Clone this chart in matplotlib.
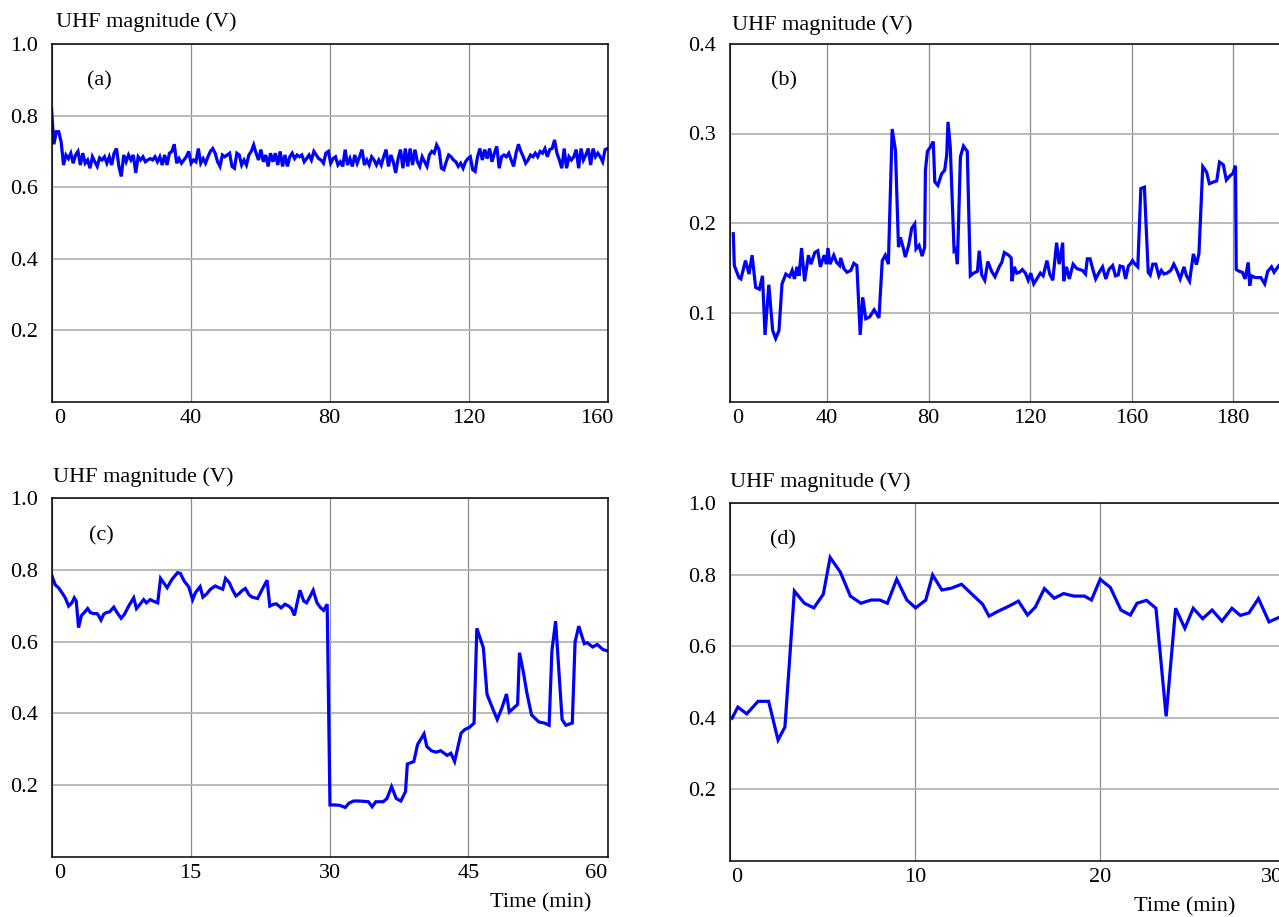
import numpy as np
import matplotlib.pyplot as plt
from matplotlib.transforms import ScaledTranslation

plt.rcParams['font.family'] = ['Liberation Serif', 'DejaVu Serif']
plt.rcParams['font.size'] = 16

# (a) evenly sampled record, 0-160 min
uhf_a = [0.82, 0.72, 0.755, 0.755, 0.727, 0.662, 0.69, 0.68, 0.695, 0.667, 0.69, 0.70, 0.662, 0.695, 0.667,
         0.676, 0.653, 0.685, 0.671, 0.658, 0.682, 0.676, 0.685, 0.667, 0.685, 0.662, 0.695, 0.708, 0.658, 0.630,
         0.69, 0.671, 0.69, 0.676, 0.69, 0.64, 0.685, 0.676, 0.685, 0.671, 0.676, 0.68, 0.676, 0.685, 0.671,
         0.685, 0.662, 0.69, 0.662, 0.695, 0.70, 0.72, 0.667, 0.68, 0.667, 0.676,
         0.685, 0.70, 0.667, 0.676, 0.671, 0.708, 0.667, 0.68, 0.667, 0.685, 0.70, 0.708, 0.695, 0.671, 0.658,
         0.69, 0.685, 0.69, 0.695, 0.658, 0.653, 0.695, 0.69, 0.662, 0.676, 0.662, 0.69, 0.70, 0.718, 0.695,
         0.676, 0.705, 0.671, 0.69, 0.658, 0.695, 0.671, 0.695, 0.662, 0.70, 0.658, 0.69, 0.658, 0.685, 0.695,
         0.68, 0.69, 0.685, 0.69, 0.671, 0.68, 0.69, 0.676, 0.70, 0.69, 0.68, 0.676, 0.667,
         0.695, 0.70, 0.667, 0.68, 0.685, 0.662, 0.671, 0.658, 0.705, 0.662, 0.68, 0.658, 0.69, 0.667, 0.685,
         0.705, 0.662, 0.676, 0.662, 0.685, 0.676, 0.662, 0.676, 0.662, 0.685, 0.705, 0.658, 0.69, 0.671, 0.64,
         0.68, 0.705, 0.653, 0.708, 0.658, 0.708, 0.662, 0.705, 0.671, 0.658, 0.685, 0.671, 0.658, 0.69, 0.70,
         0.695, 0.718, 0.705, 0.653, 0.649, 0.671, 0.69, 0.685, 0.676, 0.671, 0.658, 0.667, 0.653,
         0.671, 0.68, 0.685, 0.649, 0.644, 0.685, 0.708, 0.676, 0.705, 0.68, 0.708, 0.671, 0.695, 0.714, 0.653,
         0.685, 0.69, 0.685, 0.695, 0.676, 0.658, 0.695, 0.72, 0.70, 0.685, 0.667, 0.676, 0.69, 0.685, 0.695,
         0.685, 0.70, 0.695, 0.708, 0.685, 0.705, 0.708, 0.732, 0.695, 0.676, 0.653, 0.708, 0.653, 0.685, 0.676,
         0.685, 0.705, 0.653, 0.708, 0.676, 0.69, 0.708, 0.662, 0.708, 0.685, 0.695, 0.685, 0.671, 0.705, 0.708]
t_a = np.linspace(0, 160, len(uhf_a))

# (b)
t_b = [3.0, 3.4, 5.2, 6.0, 7.8, 9.2, 10.4, 11.8, 13.3, 14.5,
       15.5, 17.0, 18.5, 19.7, 21.0, 22.2, 23.7, 25.2, 26.2, 27.1,
       28.1, 28.9, 29.9, 31.1, 32.6, 33.6, 35.1, 36.3, 37.3, 38.8,
       39.7, 40.3, 41.1, 42.6, 43.7, 44.9, 45.3, 46.6, 47.8, 49.3,
       50.5, 51.7, 53.0, 54.0, 55.2, 56.7, 58.5, 60.4, 61.7, 62.9,
       64.1, 65.6, 66.9, 68.1, 68.8, 69.9, 70.8, 72.1, 73.3, 74.5,
       75.0, 76.2, 77.4, 78.4, 78.7, 79.5, 80.7, 81.8, 82.4, 83.6,
       85.1, 86.3, 87.1, 87.6, 88.5, 90.0, 90.7, 91.3, 92.5, 93.7,
       95.2, 96.4, 97.7, 99.2, 99.9, 100.9, 102.1, 103.3, 104.8, 106.1,
       107.8, 108.8, 109.8, 111.5, 112.5, 112.8, 113.7, 114.7, 115.8, 116.9,
       118.1, 119.2, 120.2, 121.4, 122.9, 124.0, 125.1, 126.6, 127.7, 128.9,
       130.4, 131.4, 132.8, 133.2, 134.3, 135.4, 136.9, 138.4, 140.6, 141.8,
       142.5, 143.6, 144.6, 145.8, 147.0, 148.5, 149.8, 151.0, 152.5, 153.6,
       154.7, 155.4, 156.6, 157.6, 158.7, 159.4, 160.3, 161.3, 162.4, 163.6,
       165.0, 166.5, 167.3, 168.3, 169.5, 170.7, 171.7, 172.7, 173.9, 175.4,
       176.6, 177.8, 179.1, 180.6, 181.6, 182.8, 184.3, 185.5, 186.5, 188.0,
       189.5, 190.6, 192.4, 193.5, 194.6, 196.1, 197.3, 198.8, 199.8, 200.9,
       201.2, 202.4, 203.6, 204.7, 205.9, 206.5, 207.2, 208.7, 210.9, 212.4,
       213.6, 215.1, 216.1, 218.0, 220.0]
uhf_b = [0.188, 0.1525, 0.139, 0.1375, 0.158, 0.143, 0.164, 0.128, 0.126, 0.141,
         0.075, 0.131, 0.080, 0.071, 0.080, 0.132, 0.143, 0.140, 0.147, 0.1375,
         0.151, 0.141, 0.172, 0.135, 0.164, 0.154, 0.167, 0.169, 0.151, 0.164,
         0.154, 0.172, 0.154, 0.164, 0.156, 0.1525, 0.161, 0.149, 0.145, 0.147,
         0.155, 0.1525, 0.075, 0.117, 0.093, 0.095, 0.103, 0.094, 0.158, 0.164,
         0.154, 0.305, 0.281, 0.173, 0.184, 0.173, 0.162, 0.175, 0.194, 0.199,
         0.171, 0.175, 0.163, 0.173, 0.259, 0.280, 0.285, 0.291, 0.246, 0.242,
         0.255, 0.259, 0.276, 0.313, 0.285, 0.169, 0.171, 0.154, 0.274, 0.286,
         0.280, 0.141, 0.144, 0.146, 0.169, 0.142, 0.136, 0.157, 0.146, 0.140,
         0.151, 0.156, 0.167, 0.164, 0.161, 0.135, 0.151, 0.144, 0.145, 0.148,
         0.144, 0.136, 0.144, 0.132, 0.139, 0.144, 0.141, 0.158, 0.143, 0.136,
         0.178, 0.154, 0.178, 0.135, 0.151, 0.1375, 0.154, 0.149, 0.147, 0.143,
         0.160, 0.160, 0.149, 0.1375, 0.144, 0.151, 0.1375, 0.148, 0.1525, 0.141,
         0.142, 0.152, 0.151, 0.1375, 0.152, 0.154, 0.158, 0.154, 0.151, 0.2385,
         0.240, 0.145, 0.142, 0.154, 0.154, 0.141, 0.147, 0.143, 0.144, 0.147,
         0.154, 0.147, 0.1375, 0.151, 0.141, 0.135, 0.1655, 0.1535, 0.166, 0.263,
         0.257, 0.244, 0.246, 0.247, 0.268, 0.265, 0.248, 0.253, 0.255, 0.264,
         0.148, 0.146, 0.145, 0.1375, 0.156, 0.130, 0.141, 0.139, 0.139, 0.132,
         0.146, 0.151, 0.145, 0.1525, 0.150]

# (c)
t_c = [0.05, 0.40, 0.76, 1.24, 1.48, 1.85, 2.20, 2.46, 2.67, 2.92,
       3.22, 3.54, 3.90, 4.19, 4.55, 4.91, 5.09, 5.34, 5.63, 5.92,
       6.28, 6.72, 7.07, 7.51, 7.87, 8.33, 8.87, 9.17, 9.59, 9.94,
       10.24, 10.65, 10.96, 11.46, 11.77, 12.18, 12.48, 12.99, 13.60, 13.90,
       14.31, 14.82, 15.23, 15.53, 16.04, 16.34, 16.75, 17.16, 17.67, 18.07,
       18.48, 18.78, 19.19, 19.50, 19.90, 20.21, 20.61, 20.92, 21.33, 21.63,
       22.24, 22.75, 23.26, 23.56, 23.97, 24.27, 24.78, 25.19, 25.59, 25.90,
       26.21, 26.51, 26.81, 27.22, 27.53, 27.93, 28.24, 28.65, 29.05, 29.36,
       29.75, 30.05, 30.5, 31.1, 31.7, 32.1, 32.6, 33.2, 34.2, 34.6,
       35.0, 35.8, 36.2, 36.7, 37.2, 37.7, 38.2, 38.4, 39.1, 39.5,
       40.2, 40.5, 41.0, 41.5, 42.0, 42.7, 43.1, 43.5, 44.2, 44.6,
       45.1, 45.6, 45.9, 46.3, 46.6, 47.0, 47.6, 48.1, 48.6, 49.1,
       49.4, 50.3, 50.5, 50.9, 51.3, 51.8, 52.6, 53.2, 53.7, 54.0,
       54.4, 55.1, 55.5, 56.2, 56.5, 56.9, 57.5, 57.8, 58.4, 58.9,
       59.5, 60.0]
uhf_c = [0.783, 0.758, 0.750, 0.732, 0.722, 0.699, 0.708, 0.722, 0.713, 0.639,
         0.672, 0.681, 0.692, 0.681, 0.678, 0.678, 0.672, 0.660, 0.676, 0.681,
         0.683, 0.696, 0.681, 0.665, 0.676, 0.699, 0.722, 0.692, 0.705, 0.717,
         0.708, 0.717, 0.713, 0.708, 0.776, 0.761, 0.750, 0.773, 0.792, 0.790,
         0.769, 0.752, 0.717, 0.736, 0.753, 0.724, 0.733, 0.746, 0.755, 0.750,
         0.746, 0.776, 0.764, 0.746, 0.727, 0.733, 0.743, 0.748, 0.730, 0.724,
         0.720, 0.746, 0.771, 0.699, 0.704, 0.705, 0.694, 0.704, 0.699, 0.692,
         0.673, 0.708, 0.743, 0.713, 0.708, 0.727, 0.743, 0.708, 0.694, 0.687,
         0.704, 0.145, 0.145, 0.144, 0.138, 0.150, 0.156, 0.156, 0.154, 0.140,
         0.154, 0.154, 0.163, 0.196, 0.163, 0.156, 0.182, 0.259, 0.266, 0.313,
         0.343, 0.308, 0.296, 0.292, 0.296, 0.283, 0.289, 0.266, 0.345, 0.355,
         0.361, 0.373, 0.637, 0.606, 0.583, 0.453, 0.414, 0.383, 0.415, 0.454,
         0.404, 0.425, 0.569, 0.518, 0.457, 0.396, 0.376, 0.373, 0.367, 0.574,
         0.657, 0.383, 0.367, 0.373, 0.599, 0.643, 0.594, 0.597, 0.585, 0.592,
         0.578, 0.574]

# (d)
t_d = [0.14, 0.45, 0.93, 1.54, 2.11, 2.62, 2.99, 3.50, 4.04, 4.55,
       5.06, 5.43, 5.98, 6.52, 7.09, 7.64, 8.11, 8.52, 9.02, 9.57,
       10.04, 10.59, 10.96, 11.46, 11.97, 12.52, 13.09, 13.66, 14.00, 14.51,
       15.08, 15.59, 16.08, 16.50, 16.99, 17.52, 18.03, 18.58, 19.15, 19.53,
       20.00, 20.55, 21.12, 21.63, 21.99, 22.50, 23.01, 23.56, 24.07, 24.57,
       25.02, 25.53, 26.04, 26.57, 27.11, 27.56, 28.03, 28.54, 29.11, 29.72,
       30.1]
uhf_d = [0.399, 0.430, 0.411, 0.446, 0.446, 0.338, 0.374, 0.754, 0.720, 0.707,
         0.745, 0.848, 0.807, 0.740, 0.720, 0.729, 0.729, 0.720, 0.787, 0.729,
         0.707, 0.729, 0.799, 0.757, 0.762, 0.773, 0.745, 0.717, 0.684, 0.698,
         0.712, 0.726, 0.687, 0.709, 0.761, 0.734, 0.747, 0.740, 0.740, 0.729,
         0.787, 0.764, 0.701, 0.687, 0.720, 0.728, 0.706, 0.404, 0.706, 0.650,
         0.706, 0.677, 0.701, 0.670, 0.706, 0.686, 0.693, 0.733, 0.668, 0.682,
         0.686]

W, H = 1279, 917
fig = plt.figure(figsize=(W / 100, H / 100), dpi=100)


def px_axes(left, top, right, bottom):
    # axes box given in pixels from the top-left corner
    return fig.add_axes([left / W, 1 - bottom / H, (right - left) / W, (bottom - top) / H])


def fig_text(x, y, s, **kw):
    fig.text(x / W, 1 - y / H, s, **kw)


def panel(box, t, v, xlim, xticks, xlabels, ylim, yticks, ylabels, first_dx=8, last_dx=None):
    ax = px_axes(*box)
    ax.plot(t, v, color='#0000ff', lw=2.3, solid_joinstyle='miter')
    ax.set_xlim(*xlim)
    ax.set_ylim(*ylim)
    ax.set_xticks(xticks, xlabels)
    ax.set_yticks(yticks, ylabels)
    ax.set_axisbelow(True)
    ax.yaxis.grid(True, color='#b4b4b4', lw=1.3)
    ax.xaxis.grid(True, color='#8c8c8c', lw=0.9)
    ax.tick_params(axis='x', length=0, pad=5, labelsize=16)
    ax.tick_params(axis='y', length=0, pad=10, labelsize=16)
    for s in ax.spines.values():
        s.set_linewidth(1.1)
        s.set_color('black')
    # end labels sit a little inside the frame, as in the original
    labels = ax.get_xticklabels()
    labels[0].set_transform(labels[0].get_transform() +
                            ScaledTranslation(first_dx / 100, 0, fig.dpi_scale_trans))
    if last_dx is not None:
        labels[-1].set_transform(labels[-1].get_transform() +
                                 ScaledTranslation(last_dx / 100, 0, fig.dpi_scale_trans))
    return ax


yt = [0.2, 0.4, 0.6, 0.8, 1.0]
ytl = ['0.2', '0.4', '0.6', '0.8', '1.0']

panel((51.5, 44, 607.5, 402), t_a, uhf_a, (0, 160), [0, 40, 80, 120, 160],
      ['0', '40', '80', '120', '160'], (0, 1.0), yt, ytl, 8, -11)
panel((729.5, 44, 1286.5, 402), t_b, uhf_b, (1.5, 221), [1.5, 40, 80, 120, 160, 200],
      ['0', '40', '80', '120', '160', '180'], (0, 0.4), [0.1, 0.2, 0.3, 0.4],
      ['0.1', '0.2', '0.3', '0.4'], 8)
panel((51.5, 498, 607.5, 857), t_c, uhf_c, (0, 60), [0, 15, 30, 45, 60],
      ['0', '15', '30', '45', '60'], (0, 1.0), yt, ytl, 8, -11)
panel((729.5, 503, 1285.5, 861), t_d, uhf_d, (0, 30), [0, 10, 20, 30],
      ['0', '10', '20', '30'], (0, 1.0), yt, ytl, 7, -14)

for x, y in [(56, 22), (732, 25), (53, 477), (730, 482)]:
    fig_text(x, y, 'UHF magnitude (V)', ha='left', va='center', fontsize=16)

for x, y, s in [(87, 81, '(a)'), (771, 81, '(b)'), (89, 536, '(c)'), (770, 540, '(d)')]:
    fig_text(x, y, s, ha='left', va='center', fontsize=16)

fig_text(541, 903, 'Time (min)', ha='center', va='center', fontsize=16)
fig_text(1185, 907, 'Time (min)', ha='center', va='center', fontsize=16)

fig.savefig('out.png', dpi=100)
